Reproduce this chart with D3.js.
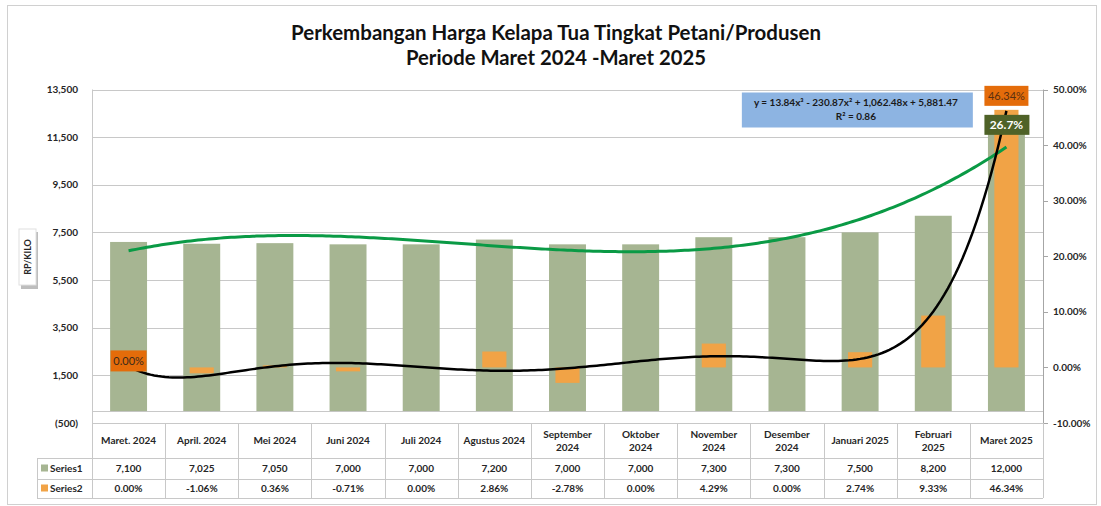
<!DOCTYPE html>
<html>
<head>
<meta charset="utf-8">
<script src="https://cdn.jsdelivr.net/npm/d3@7"></script>
<style>
  html, body { margin: 0; padding: 0; background: #fff; }
  svg { display: block; font-family: 'Lato', 'Open Sans', sans-serif; }
</style>
</head>
<body>
<div id="chart"></div>
<script>
// categories (table header), "\n" marks a line break in the header cell
const months = [
  "Maret. 2024", "April. 2024", "Mei 2024", "Juni 2024", "Juli 2024", "Agustus 2024",
  "September\n2024", "Oktober\n2024", "November\n2024", "Desember\n2024",
  "Januari 2025", "Februari\n2025", "Maret 2025"
]
// Series1: price, Rp/kilo (left axis)
const series1 = [7100, 7025, 7050, 7000, 7000, 7200, 7000, 7000, 7300, 7300, 7500, 8200, 12000]
// Series2: month-on-month change (right axis)
const series2 = [0.0, -0.0106, 0.0036, -0.0071, 0.0, 0.0286, -0.0278, 0.0, 0.0429, 0.0, 0.0274, 0.0933, 0.4634]

const leftTicks = [-500, 1500, 3500, 5500, 7500, 9500, 11500, 13500]
const rightTicks = [-0.10, 0.0, 0.10, 0.20, 0.30, 0.40, 0.50]

const titleLines = [
  "Perkembangan Harga Kelapa Tua Tingkat Petani/Produsen",
  "Periode Maret 2024 -Maret 2025"
]
const equationLines = ["y = 13.84x³ - 230.87x² + 1,062.48x + 5,881.47", "R² = 0.86"]
const extraLabel = "26.7%"

const width = 1101
const height = 506
const margin = { top: 89.5, right: 58, bottom: 83, left: 92 }
const plotRight = width - margin.right
const plotBottom = height - margin.bottom

const colors = {
  bar1: "#A6B592",
  bar2: "#F1A346",
  grid: "#C8C8C8",
  text: "#262626",
  trend1: "#0A9A45",
  trend2: "#000000",
  lab0: "#E46C0A",
  labLast: "#E46C0A",
  labOlive: "#4F6228",
  eqBox: "#8DB4E2"
}

const locale = d3.formatLocale({ decimal: ".", thousands: ",", grouping: [3], currency: ["", ""], minus: "-" })
const fmtNum = locale.format(",")
const fmtPct = locale.format(".2%")

// least squares polynomial fit, x = 1..n (as Excel trendlines do)
function polyFit(ys, degree) {
  const n = degree + 1
  const A = Array.from({ length: n }, () => new Array(n + 1).fill(0))
  ys.forEach((y, i) => {
    const x = i + 1
    for (let r = 0; r < n; r++) {
      for (let c = 0; c < n; c++) A[r][c] += Math.pow(x, r + c)
      A[r][n] += y * Math.pow(x, r)
    }
  })
  for (let p = 0; p < n; p++) {
    let best = p
    for (let r = p + 1; r < n; r++) if (Math.abs(A[r][p]) > Math.abs(A[best][p])) best = r
    ;[A[p], A[best]] = [A[best], A[p]]
    for (let r = 0; r < n; r++) {
      if (r === p) continue
      const f = A[r][p] / A[p][p]
      for (let c = p; c <= n; c++) A[r][c] -= f * A[p][c]
    }
  }
  const coef = A.map((row, i) => row[n] / row[i])
  return x => coef.reduce((s, a, k) => s + a * Math.pow(x, k), 0)
}

const svg = d3.select("#chart").append("svg")
  .attr("width", width)
  .attr("height", height)
  .attr("viewBox", [0, 0, width, height])

// outer chart border
svg.append("rect")
  .attr("x", 7.5).attr("y", 5.5)
  .attr("width", 1089).attr("height", 499)
  .attr("fill", "#fff")
  .attr("stroke", "#D0D0D0")

// title
svg.append("g")
  .attr("font-weight", "bold")
  .attr("font-size", 20)
  .attr("fill", "#111")
  .attr("text-anchor", "middle")
  .selectAll("text")
  .data(titleLines)
  .join("text")
    .attr("x", 556)
    .attr("y", (d, i) => 40 + i * 25)
    .attr("textLength", (d, i) => i ? 300 : 530)
    .attr("lengthAdjust", "spacingAndGlyphs")
    .text(d => d)

const x = d3.scaleBand()
  .domain(d3.range(months.length))
  .range([margin.left, plotRight])
  .paddingInner(0)
  .paddingOuter(0)

const yL = d3.scaleLinear().domain([-500, 13500]).range([plotBottom, margin.top])
const yR = d3.scaleLinear().domain([-0.10, 0.50]).range([plotBottom, margin.top])

// gridlines
svg.append("g")
  .attr("stroke", colors.grid)
  .selectAll("line")
  .data(leftTicks)
  .join("line")
    .attr("x1", margin.left).attr("x2", plotRight)
    .attr("y1", d => Math.round(yL(d)) + 0.5)
    .attr("y2", d => Math.round(yL(d)) + 0.5)

// left axis line + category axis line at zero
svg.append("line")
  .attr("x1", margin.left + 0.5).attr("x2", margin.left + 0.5)
  .attr("y1", margin.top).attr("y2", plotBottom)
  .attr("stroke", colors.grid)
svg.append("line")
  .attr("x1", margin.left).attr("x2", plotRight)
  .attr("y1", Math.round(yL(0)) + 0.5).attr("y2", Math.round(yL(0)) + 0.5)
  .attr("stroke", colors.grid)

// left tick labels
svg.append("g")
  .attr("font-size", 10)
  .attr("font-weight", "bold")
  .attr("fill", colors.text)
  .attr("text-anchor", "end")
  .selectAll("text")
  .data(leftTicks)
  .join("text")
    .attr("x", 78)
    .attr("y", d => yL(d) + 3.5)
    .text(d => d < 0 ? `(${fmtNum(-d)})` : fmtNum(d))

// right axis
svg.append("line")
  .attr("x1", plotRight + 0.5).attr("x2", plotRight + 0.5)
  .attr("y1", margin.top).attr("y2", plotBottom)
  .attr("stroke", "#A6A6A6")
svg.append("g")
  .attr("stroke", "#A6A6A6")
  .selectAll("line")
  .data(rightTicks)
  .join("line")
    .attr("x1", plotRight).attr("x2", plotRight + 5)
    .attr("y1", d => Math.round(yR(d)) + 0.5)
    .attr("y2", d => Math.round(yR(d)) + 0.5)
svg.append("g")
  .attr("font-size", 10)
  .attr("font-weight", "bold")
  .attr("fill", colors.text)
  .selectAll("text")
  .data(rightTicks)
  .join("text")
    .attr("x", plotRight + 10)
    .attr("y", d => yR(d) + 3.5)
    .text(d => fmtPct(d))

// axis title box
const axisTitle = svg.append("g").attr("transform", "translate(19,229)")
axisTitle.append("rect")
  .attr("x", 2).attr("y", 3).attr("width", 17).attr("height", 57)
  .attr("fill", "#BDBDBD")
axisTitle.append("rect")
  .attr("x", 0).attr("y", 0).attr("width", 17).attr("height", 56)
  .attr("fill", "#fff").attr("stroke", "#E0E0E0")
axisTitle.append("text")
  .attr("transform", "translate(12,28) rotate(-90)")
  .attr("text-anchor", "middle")
  .attr("font-size", 9)
  .attr("font-weight", "bold")
  .attr("fill", colors.text)
  .text("RP/KILO")

// Series1 bars
const bw1 = x.bandwidth() * 0.505
svg.append("g")
  .attr("fill", colors.bar1)
  .selectAll("rect")
  .data(series1)
  .join("rect")
    .attr("x", (d, i) => x(i) + (x.bandwidth() - bw1) / 2)
    .attr("y", d => yL(d))
    .attr("width", bw1)
    .attr("height", d => yL(0) - yL(d))

// Series2 bars (secondary axis)
const bw2 = x.bandwidth() * 0.33
svg.append("g")
  .attr("fill", colors.bar2)
  .selectAll("rect")
  .data(series2)
  .join("rect")
    .attr("x", (d, i) => x(i) + (x.bandwidth() - bw2) / 2)
    .attr("y", d => yR(Math.max(0, d)))
    .attr("width", bw2)
    .attr("height", d => Math.abs(yR(d) - yR(0)))

// trendlines
const xt = d3.scaleLinear()
  .domain([1, months.length])
  .range([x(0) + x.bandwidth() / 2, x(months.length - 1) + x.bandwidth() / 2])
const ts = d3.range(1, months.length + 0.001, 0.05)

const fit1 = polyFit(series1, 3)
const fit2 = polyFit(series2, 6)

svg.append("path")
  .datum(ts)
  .attr("fill", "none")
  .attr("stroke", colors.trend1)
  .attr("stroke-width", 3)
  .attr("d", d3.line().x(t => xt(t)).y(t => yL(fit1(t))))

svg.append("path")
  .datum(ts)
  .attr("fill", "none")
  .attr("stroke", colors.trend2)
  .attr("stroke-width", 2.5)
  .attr("d", d3.line().x(t => xt(t)).y(t => yR(fit2(t))))

// data labels
const last = months.length - 1
const cx = i => x(i) + x.bandwidth() / 2

const lab0 = svg.append("g").attr("transform", `translate(${cx(0)},${yR(series2[0])})`)
lab0.append("rect")
  .attr("x", -18).attr("y", -17).attr("width", 36).attr("height", 21)
  .attr("fill", colors.lab0)
lab0.append("text")
  .attr("y", -2.5)
  .attr("text-anchor", "middle")
  .attr("font-size", 11)
  .attr("fill", "#3a2a1a")
  .text(fmtPct(series2[0]))

const labLast = svg.append("g").attr("transform", `translate(${cx(last)},${yR(series2[last])})`)
labLast.append("rect")
  .attr("x", -22).attr("y", -24).attr("width", 44).attr("height", 20)
  .attr("fill", colors.labLast)
labLast.append("text")
  .attr("y", -10)
  .attr("text-anchor", "middle")
  .attr("font-size", 11)
  .attr("fill", "#5a3010")
  .text(fmtPct(series2[last]))
labLast.append("rect")
  .attr("x", -22).attr("y", 5).attr("width", 45).attr("height", 20)
  .attr("fill", colors.labOlive)
labLast.append("text")
  .attr("y", 19.5)
  .attr("text-anchor", "middle")
  .attr("font-size", 12)
  .attr("font-weight", "bold")
  .attr("fill", "#fff")
  .text(extraLabel)

// trendline equation
const eq = svg.append("g").attr("transform", `translate(${x(last)},${margin.top + 3})`)
eq.append("rect")
  .attr("x", -228).attr("y", 0).attr("width", 231).attr("height", 35)
  .attr("fill", colors.eqBox)
eq.append("g")
  .attr("text-anchor", "middle")
  .attr("font-size", 10)
  .attr("font-weight", "bold")
  .attr("fill", "#1a1a1a")
  .selectAll("text")
  .data(equationLines)
  .join("text")
    .attr("x", -114)
    .attr("y", (d, i) => 13 + i * 14)
    .text(d => d)

// data table
const rowH = [35, 21, 19]
const rowY = [plotBottom, plotBottom + rowH[0], plotBottom + rowH[0] + rowH[1]]
const tableBottom = rowY[2] + rowH[2]
const legendLeft = 37
const table = svg.append("g")

table.append("g")
  .attr("stroke", colors.grid)
  .selectAll("line")
  .data([plotBottom, rowY[1], rowY[2], tableBottom])
  .join("line")
    .attr("x1", (d, i) => i === 0 ? margin.left : legendLeft)
    .attr("x2", plotRight)
    .attr("y1", d => Math.round(d) + 0.5)
    .attr("y2", d => Math.round(d) + 0.5)

table.append("g")
  .attr("stroke", colors.grid)
  .selectAll("line")
  .data(d3.range(months.length + 1))
  .join("line")
    .attr("x1", i => Math.round(i < months.length ? x(i) : plotRight) + 0.5)
    .attr("x2", i => Math.round(i < months.length ? x(i) : plotRight) + 0.5)
    .attr("y1", plotBottom)
    .attr("y2", tableBottom)
table.append("line")
  .attr("x1", legendLeft + 0.5).attr("x2", legendLeft + 0.5)
  .attr("y1", rowY[1]).attr("y2", tableBottom)
  .attr("stroke", colors.grid)

const tableText = table.append("g")
  .attr("font-size", 10)
  .attr("font-weight", "bold")
  .attr("fill", colors.text)
  .attr("text-anchor", "middle")

tableText.selectAll("text.head")
  .data(months)
  .join("text")
    .attr("class", "head")
    .attr("x", (d, i) => cx(i))
    .attr("y", d => rowY[0] + rowH[0] / 2 + 3.5 - (d.split("\n").length - 1) * 6.5)
    .each(function(d) {
      d3.select(this).selectAll("tspan")
        .data(d.split("\n"))
        .join("tspan")
          .attr("x", d3.select(this).attr("x"))
          .attr("dy", (s, j) => j ? 13 : 0)
          .text(s => s)
    })

tableText.selectAll("text.s1")
  .data(series1)
  .join("text")
    .attr("class", "s1")
    .attr("x", (d, i) => cx(i))
    .attr("y", rowY[1] + rowH[1] / 2 + 3.5)
    .text(d => fmtNum(d))

tableText.selectAll("text.s2")
  .data(series2)
  .join("text")
    .attr("class", "s2")
    .attr("x", (d, i) => cx(i))
    .attr("y", rowY[2] + rowH[2] / 2 + 3.5)
    .text(d => fmtPct(d))

// legend keys in the table
const legend = table.append("g")
  .selectAll("g")
  .data([{ name: "Series1", color: colors.bar1 }, { name: "Series2", color: colors.bar2 }])
  .join("g")
    .attr("transform", (d, i) => `translate(${legendLeft + 4},${rowY[i + 1] + rowH[i + 1] / 2})`)
legend.append("rect")
  .attr("x", 0).attr("y", -4).attr("width", 7).attr("height", 7)
  .attr("fill", d => d.color)
legend.append("text")
  .attr("x", 9)
  .attr("y", 3.5)
  .attr("font-size", 10)
  .attr("font-weight", "bold")
  .attr("fill", colors.text)
  .text(d => d.name)
</script>
</body>
</html>
